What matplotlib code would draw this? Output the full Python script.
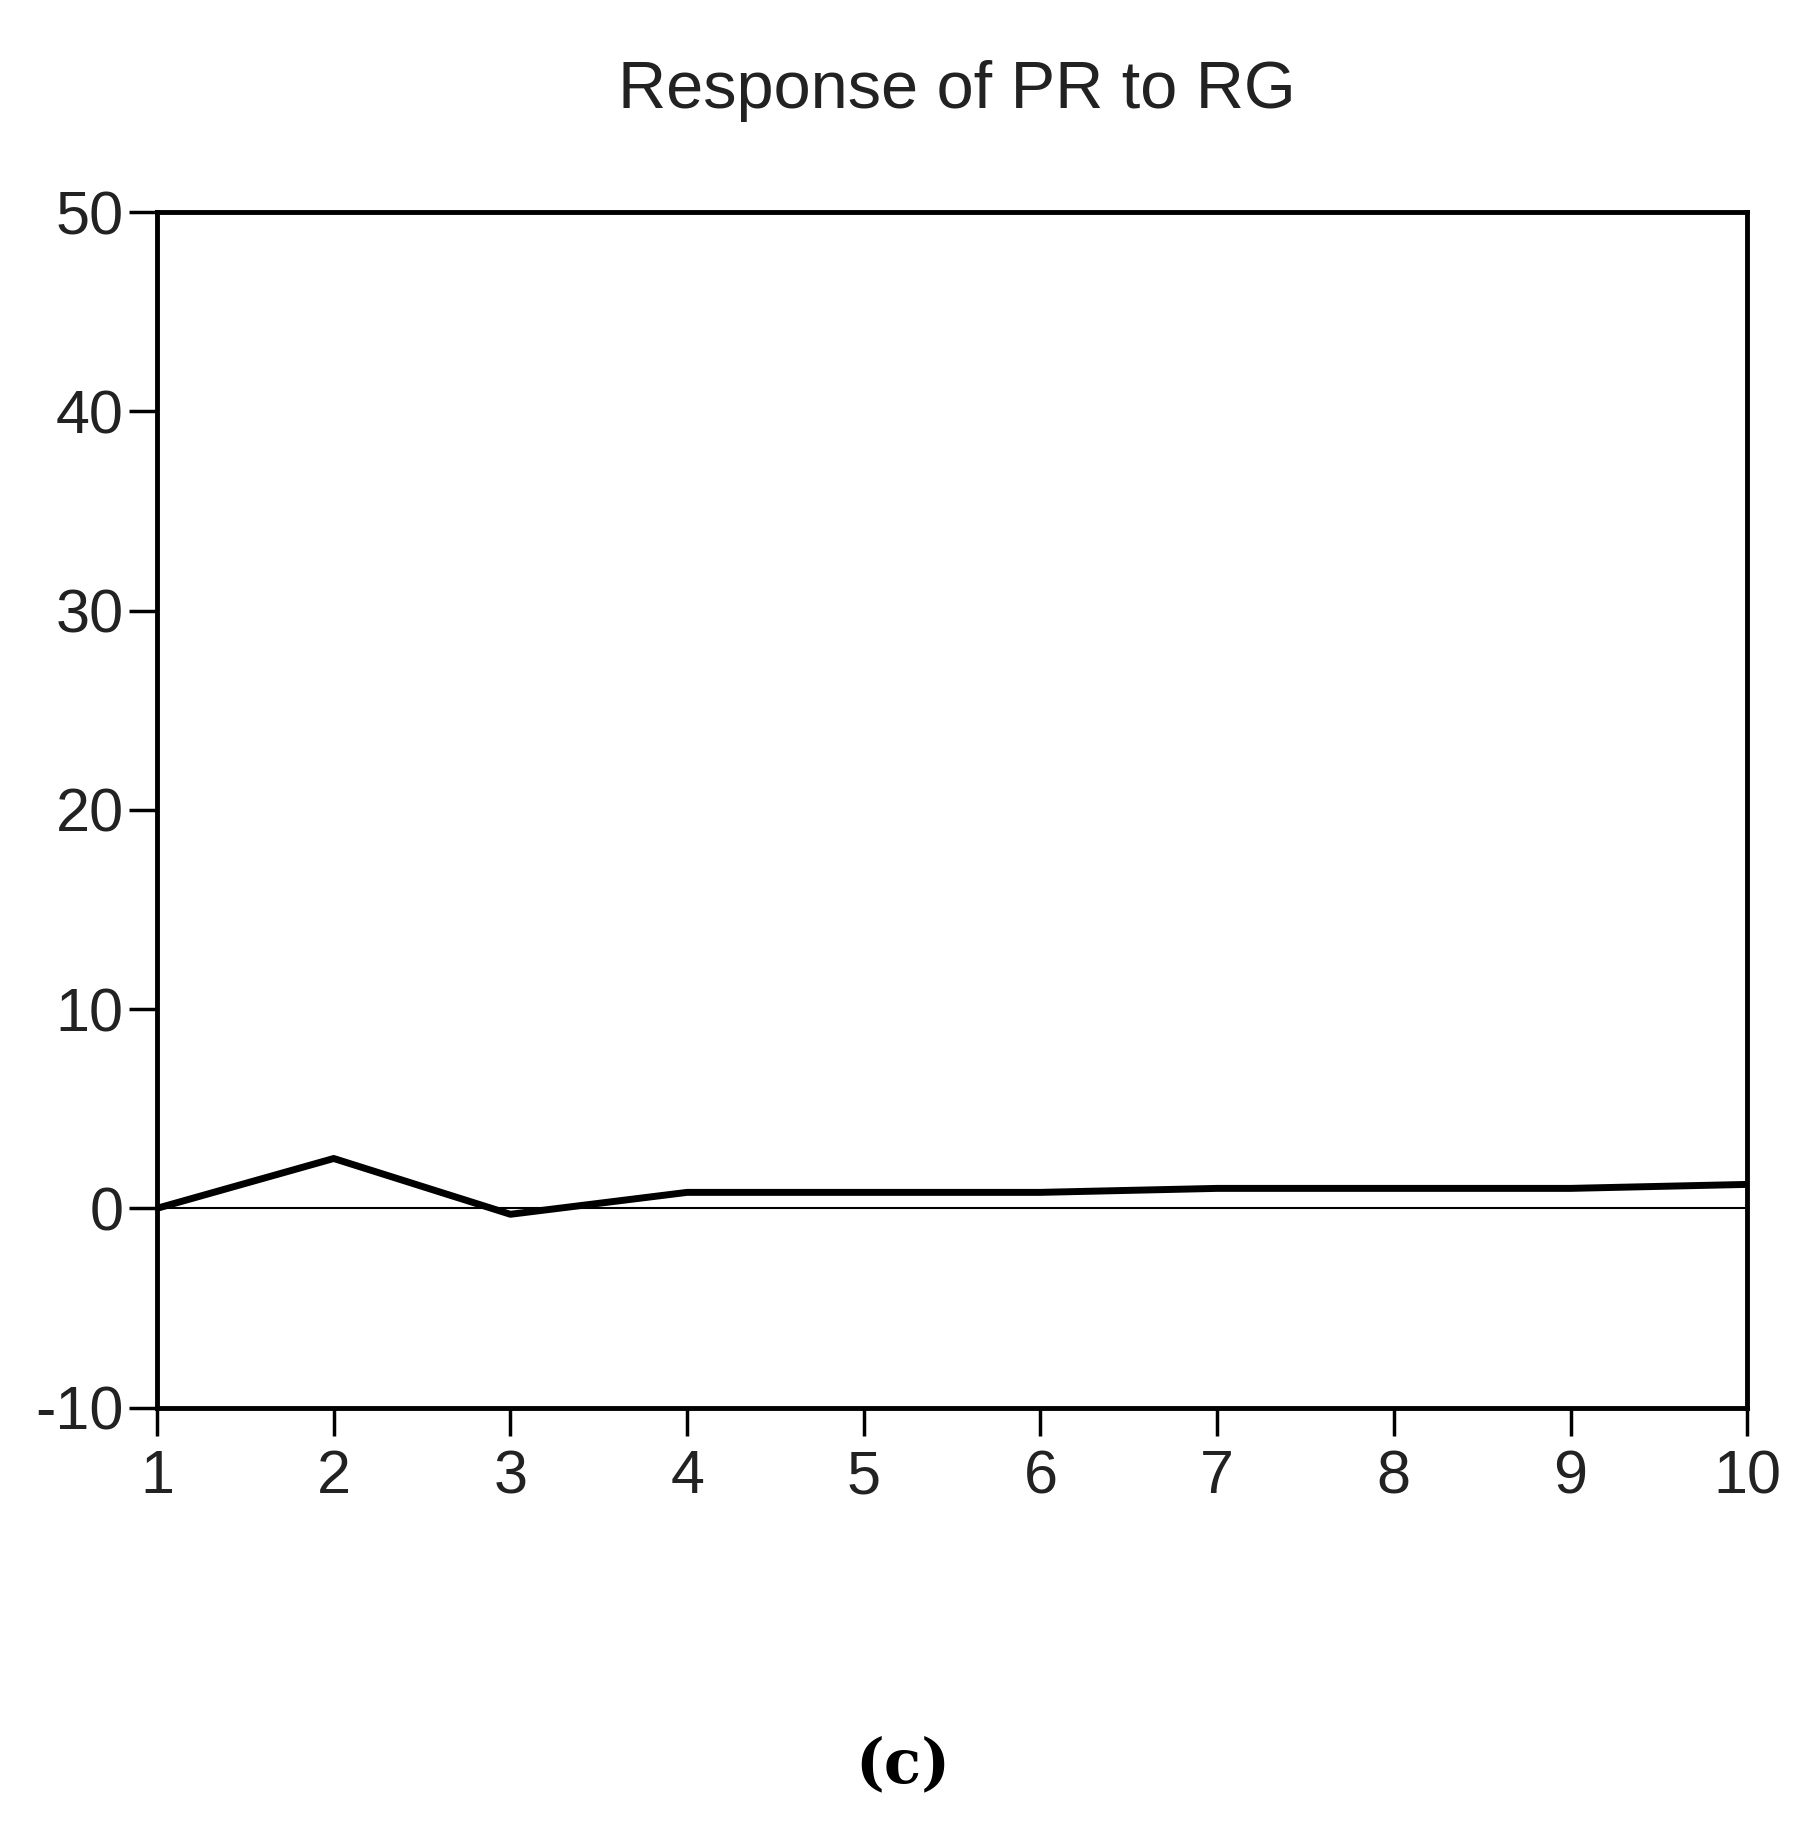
import matplotlib
matplotlib.use("Agg")
import matplotlib.pyplot as plt

plt.rcParams["font.family"] = ["Liberation Sans", "DejaVu Sans"]
plt.rcParams["axes.unicode_minus"] = False

# data
periods = [1, 2, 3, 4, 5, 6, 7, 8, 9, 10]
response = [0.0, 2.5, -0.3, 0.8, 0.8, 0.8, 1.0, 1.0, 1.0, 1.2]
y_ticks = [-10, 0, 10, 20, 30, 40, 50]

fig = plt.figure(figsize=(18.05, 18.28), dpi=100)
ax = fig.add_axes([0.087, 0.230, 0.881, 0.654])

ax.plot(periods, response, color="black", lw=5)
ax.axhline(0, color="black", lw=1.5)

ax.set_xlim(1, 10)
ax.set_ylim(-10, 50)
ax.set_xticks(periods)
ax.set_yticks(y_ticks)
for s in ax.spines.values():
    s.set_linewidth(3.5)
ax.tick_params(axis="both", direction="out", length=20, width=2.5,
               labelsize=44, colors="black")
ax.tick_params(axis="x", pad=10)
ax.tick_params(axis="y", pad=4)
ax.tick_params(top=False, right=False)
for lbl in ax.get_xticklabels() + ax.get_yticklabels():
    lbl.set_color("#222222")

fig.text(0.53, 0.95, "Response of PR to RG", ha="center", va="center",
         fontsize=48, color="#222222")
fig.text(0.5, 0.034, "(c)", ha="center", va="center", fontsize=44,
         fontweight="bold", family="DejaVu Serif")

fig.savefig("out.png", dpi=100)
